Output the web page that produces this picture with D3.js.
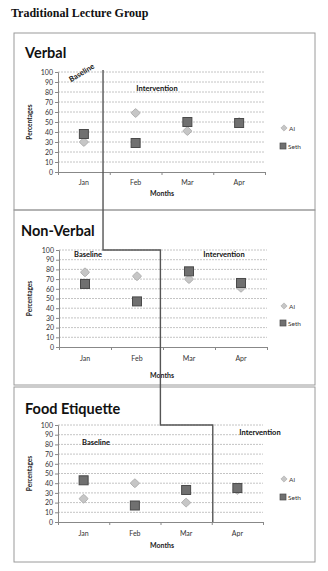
<!DOCTYPE html>
<html><head><meta charset="utf-8">
<script src="https://cdn.jsdelivr.net/npm/d3@7"></script>
<style>body{margin:0;background:#fff}svg{display:block}</style>
</head><body>
<script>
const months = ["Jan","Feb","Mar","Apr"];
const yTicks = [0,10,20,30,40,50,60,70,80,90,100];
const verbalAl = [30,59,41,50];
const verbalSeth = [38,29,50,49];
const nonVerbalAl = [77,73,70,61];
const nonVerbalSeth = [65,47,78,66];
const foodAl = [24,40,20,33];
const foodSeth = [43,17,33,35];
const panelTitles = ["Verbal","Non-Verbal","Food Etiquette"];
const seriesNames = ["Al","Seth"];
// phase change position, in month-index units
const phaseChange = [0.37, 1.45, 2.52];

const W=328,H=571;
const svg=d3.select("body").append("svg").attr("width",W).attr("height",H);
const sans="Lato, 'Open Sans', sans-serif";

svg.append("text").attr("x",11).attr("y",17).attr("font-family","'Liberation Serif', 'Times New Roman', serif")
  .attr("font-weight","bold").attr("font-size",12).attr("fill","#111").text("Traditional Lecture Group");

const panels=[
 {box:[14,33,315,210], plot:[58,72,265,172], titleY:58, al:verbalAl, seth:verbalSeth, legY:[128,146], tickY:185, monthsY:196},
 {box:[14,210,315,385], plot:[59,250,267,347], titleY:236, al:nonVerbalAl, seth:nonVerbalSeth, legY:[306,323], tickY:361, monthsY:378},
 {box:[14,387,315,562], plot:[58,425,263,522], titleY:414, al:foodAl, seth:foodSeth, legY:[479,497], tickY:536, monthsY:548}
];

const scales=[];
panels.forEach((p,i)=>{
  const g=svg.append("g");
  g.append("rect").attr("x",p.box[0]).attr("y",p.box[1]).attr("width",p.box[2]-p.box[0]).attr("height",p.box[3]-p.box[1])
   .attr("fill","none").attr("stroke","#9a9a9a").attr("stroke-width",1);
  g.append("text").attr("x",i==1?21:25).attr("y",p.titleY).attr("font-family",sans).attr("font-weight","bold")
   .attr("font-size",14.5).attr("fill","#111").text(panelTitles[i]);
  const x=d3.scaleLinear().domain([-0.5,3.5]).range([p.plot[0],p.plot[2]]);
  const y=d3.scaleLinear().domain([0,100]).range([p.plot[3],p.plot[1]]);
  scales.push({x,y});
  // grid
  g.selectAll("line.grid").data(yTicks.filter(d=>d>0)).join("line")
   .attr("x1",p.plot[0]).attr("x2",p.plot[2]).attr("y1",d=>y(d)).attr("y2",d=>y(d))
   .attr("stroke","#b5b5b5").attr("stroke-width",0.8).attr("stroke-dasharray","2,1");
  // y axis
  const ya=g.append("g").attr("transform",`translate(${p.plot[0]},0)`)
   .call(d3.axisLeft(y).tickValues(yTicks).tickSize(3).tickPadding(2));
  ya.select(".domain").attr("stroke","#888");
  ya.selectAll(".tick line").attr("stroke","#888");
  ya.selectAll("text").attr("font-family",sans).attr("font-size",7).attr("fill","#333");
  // x axis
  const xa=g.append("g").attr("transform",`translate(0,${p.plot[3]})`)
   .call(d3.axisBottom(x).tickValues([-0.5,0.5,1.5,2.5,3.5]).tickSize(3).tickFormat(""));
  xa.select(".domain").attr("stroke","#888");
  xa.selectAll(".tick line").attr("stroke","#888");
  g.selectAll("text.mon").data(months).join("text").attr("class","mon")
   .attr("x",(d,j)=>x(j)).attr("y",p.tickY).attr("text-anchor","middle")
   .attr("font-family",sans).attr("font-size",7).attr("fill","#333").text(d=>d);
  g.append("text").attr("x",162).attr("y",p.monthsY).attr("text-anchor","middle")
   .attr("font-family",sans).attr("font-weight","bold").attr("font-size",7).attr("fill","#222").text("Months");
  const cy=(p.plot[1]+p.plot[3])/2;
  g.append("text").attr("transform",`translate(32,${cy}) rotate(-90)`).attr("text-anchor","middle")
   .attr("font-family",sans).attr("font-weight","bold").attr("font-size",6.5).attr("fill","#222").text("Percentages");
  // points
  g.selectAll("rect.al").data(p.al).join("rect")
   .attr("transform",(d,j)=>`translate(${x(j)},${y(d)}) rotate(45)`)
   .attr("x",-3.3).attr("y",-3.3).attr("width",6.6).attr("height",6.6).attr("rx",1)
   .attr("fill","#c6c6c6").attr("stroke","#a9a9a9").attr("stroke-width",0.8);
  g.selectAll("rect.seth").data(p.seth).join("rect")
   .attr("x",(d,j)=>x(j)-4.5).attr("y",d=>y(d)-4.5).attr("width",9).attr("height",9)
   .attr("fill","#707070").attr("stroke","#4a4a4a").attr("stroke-width",1);
  // legend
  g.append("rect").attr("transform",`translate(284,${p.legY[0]}) rotate(45)`).attr("x",-2.2).attr("y",-2.2).attr("width",4.4).attr("height",4.4)
   .attr("fill","#c6c6c6").attr("stroke","#a9a9a9").attr("stroke-width",0.6);
  g.append("text").attr("x",289).attr("y",p.legY[0]+2.5).attr("font-family",sans).attr("font-size",6.5).attr("fill","#333").text(seriesNames[0]);
  g.append("rect").attr("x",280).attr("y",p.legY[1]-3).attr("width",6).attr("height",6).attr("fill","#707070").attr("stroke","#4a4a4a").attr("stroke-width",0.7);
  g.append("text").attr("x",288).attr("y",p.legY[1]+2.5).attr("font-family",sans).attr("font-size",6.5).attr("fill","#333").text(seriesNames[1]);
});

// phase labels
function lbl(t,xx,yy,rot){
  svg.append("text").attr("transform",`translate(${xx},${yy}) rotate(${rot||0})`).attr("text-anchor","middle")
   .attr("font-family",sans).attr("font-weight","bold").attr("font-size",7.5).attr("fill","#111").text(t);
}
lbl("Baseline",83,75,-31);
lbl("Intervention",157,91);
lbl("Baseline",88,257);
lbl("Intervention",224,257);
lbl("Baseline",96,445);
lbl("Intervention",260,435);

// phase change line
const s=scales;
const px=[s[0].x(phaseChange[0]), s[1].x(phaseChange[1]), s[2].x(phaseChange[2])];
const pts=[
 [px[0], s[0].y(102)],
 [px[0], s[1].y(100)],
 [px[1], s[1].y(100)],
 [px[1], s[2].y(100)],
 [px[2], s[2].y(100)],
 [px[2], s[2].y(0)]
];
svg.append("path").attr("d",d3.line()(pts)).attr("fill","none").attr("stroke","#555").attr("stroke-width",1.4);
</script>
</body></html>
